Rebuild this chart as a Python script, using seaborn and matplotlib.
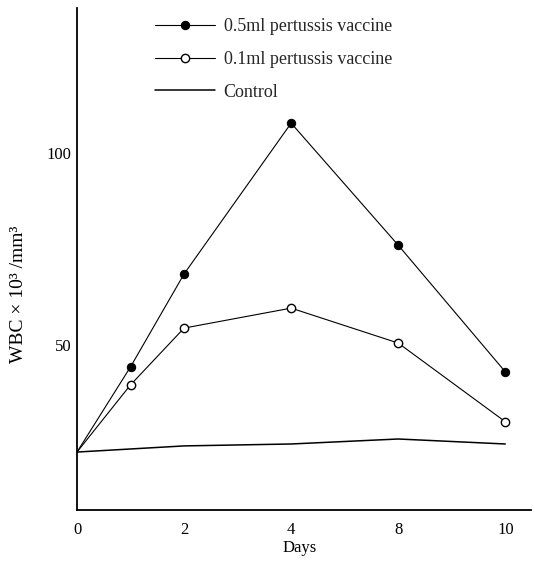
import numpy as np
import pandas as pd
import matplotlib
matplotlib.use("Agg")
import matplotlib.pyplot as plt
import seaborn as sns

# ---- data ----
days = [0, 1, 2, 4, 8, 10]
wbc_05 = [22.1, 44.3, 68.5, 107.8, 76.0, 43.0]
wbc_01 = [22.1, 39.6, 54.4, 59.6, 50.5, 30.0]
control_days = [0, 2, 4, 8, 10]
wbc_ctrl = [22.1, 23.7, 24.2, 25.5, 24.2]
tick_days = [0, 2, 4, 8, 10]
y_ticks = [50, 100]
labels = ["0.5ml pertussis vaccine", "0.1ml pertussis vaccine", "Control"]

sns.set_theme(style="white")
plt.rcParams["font.family"] = ["Liberation Serif", "DejaVu Serif"]

# the reference's day axis is ordinal: ticks equally spaced
def day_pos(d):
    return np.interp(d, tick_days, np.arange(len(tick_days)))

df = pd.concat([
    pd.DataFrame({"day": days, "wbc": wbc_05, "group": labels[0]}),
    pd.DataFrame({"day": days, "wbc": wbc_01, "group": labels[1]}),
    pd.DataFrame({"day": control_days, "wbc": wbc_ctrl, "group": labels[2]}),
], ignore_index=True)
df["pos"] = day_pos(df["day"].to_numpy())

fig = plt.figure(figsize=(5.35, 5.61), dpi=100)
ax = fig.add_axes([77 / 535, 51 / 561, 454 / 535, 502 / 561])

lw = 0.8
sns.lineplot(data=df[df.group == labels[0]], x="pos", y="wbc", ax=ax,
             color="black", lw=lw, marker="o", markersize=6,
             markerfacecolor="black", markeredgecolor="black",
             markevery=slice(1, None), label=labels[0])
sns.lineplot(data=df[df.group == labels[1]], x="pos", y="wbc", ax=ax,
             color="black", lw=lw, marker="o", markersize=6,
             markerfacecolor="white", markeredgecolor="black",
             markeredgewidth=1.0, markevery=slice(1, None), label=labels[1])
sns.lineplot(data=df[df.group == labels[2]], x="pos", y="wbc", ax=ax,
             color="black", lw=1.1, label=labels[2])

ax.set_xlim(0, 4.24)
ax.set_ylim(7.0, 137.8)
ax.set_xticks(day_pos(np.array(tick_days)))
ax.set_xticklabels([str(d) for d in tick_days])
ax.set_yticks(y_ticks)
ax.set_yticklabels([str(v) for v in y_ticks])
ax.tick_params(axis="both", length=0, labelsize=12, colors="black")
ax.tick_params(axis="x", pad=9)
ax.tick_params(axis="y", pad=4)

for side in ["top", "right"]:
    ax.spines[side].set_visible(False)
for side in ["left", "bottom"]:
    ax.spines[side].set_color("black")
    ax.spines[side].set_linewidth(1.3)

ax.set_xlabel("Days", fontsize=12, color="black")
ax.set_ylabel("WBC × 10³ /mm³", fontsize=14, color="black")
ax.xaxis.set_label_coords(0.49, -0.06)
ax.yaxis.set_label_coords(-0.11, 0.43)

leg = ax.legend(loc="upper left", bbox_to_anchor=(155 / 535, 1 - 18 / 561),
                bbox_transform=fig.transFigure, frameon=False, fontsize=13,
                handlelength=3.3, handletextpad=0.5, labelspacing=0.88,
                borderpad=0, borderaxespad=0)
for h in leg.legend_handles[:2]:
    h.set_markevery([1])

fig.savefig("out.png", dpi=100, facecolor="white")
